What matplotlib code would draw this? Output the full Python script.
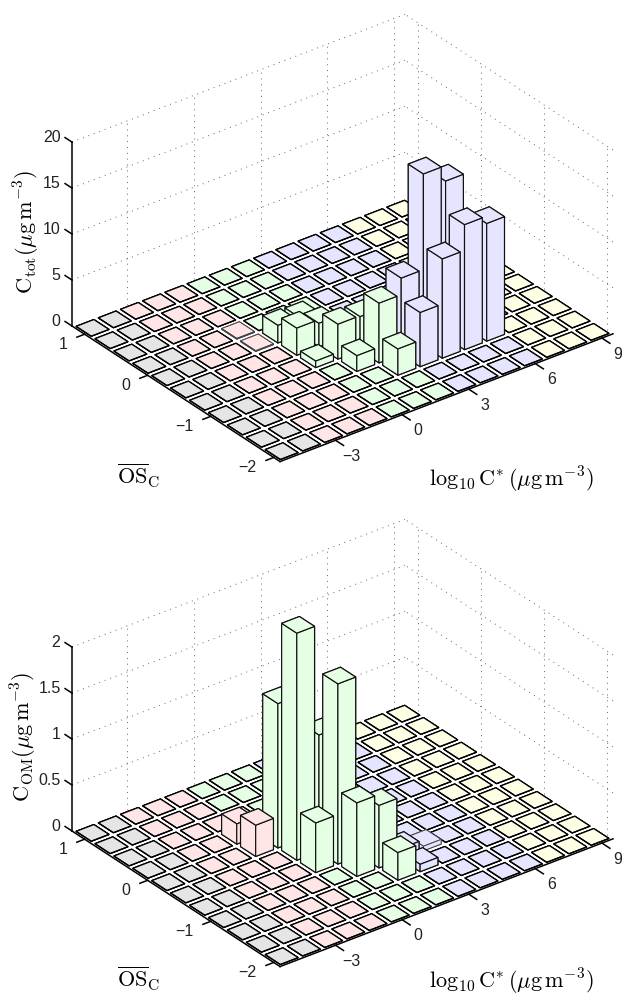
import numpy as np
import matplotlib
matplotlib.use("Agg")
import matplotlib.pyplot as plt
from mpl_toolkits.mplot3d import proj3d

plt.rcParams['font.family'] = ['Liberation Sans', 'DejaVu Sans']
plt.rcParams['mathtext.fontset'] = 'cm'

W, H = 622, 996

# grid cells
log_c = [-5, -4, -3, -2, -1, 0, 1, 2, 3, 4, 5, 6, 7, 8, 9]
os_c = [1.05, 0.75, 0.45, 0.15, -0.15, -0.45, -0.75, -1.05, -1.35, -1.65, -1.95]
col_gray = '#e5e5e5'
col_pink = '#ffe5e5'
col_green = '#e5ffe5'
col_blue = '#e5e5ff'
col_yellow = '#ffffe5'
cell_colors = [col_gray] * 2 + [col_pink] * 3 + [col_green] * 3 + [col_blue] * 4 + [col_yellow] * 3

# non zero bars, top panel
top_x = [3, 4, 5, 6, 2, 1, 2, 3, 4, 5, 1, 2, 0, 0, 1, 0, 1, -1, -1]
top_os = [-1.35, -1.35, -1.35, -1.35, -1.35, -1.05, -1.05, -1.05, -1.05, -1.05,
          -0.75, -0.75, -0.75, -0.45, -0.45, -0.15, -0.15, 0.15, -0.15]
top_h = [5.9, 10.8, 13.6, 12.8, 2.85, 1.7, 6.5, 8.3, 18.7, 17.0,
         3.8, 3.7, 0.7, 2.95, 2.55, 1.9, 1.8, 0.08, 0.08]

# non zero bars, bottom panel
bot_x = [0, 1, 0, 1, 0, 1, 2, 2, -1, -1, 3, 4, 3]
bot_os = [-0.45, -0.75, -0.15, -0.45, -0.75, -1.05, -1.05, -1.35, -0.15, 0.15, -1.05, -1.05, -1.35]
bot_h = [2.47, 1.96, 1.57, 1.27, 0.54, 0.8, 0.68, 0.3, 0.34, 0.22, 0.12, 0.05, 0.08]

x_ticks = [-3, 0, 3, 6, 9]
x_tick_labels = ['\u22123', '0', '3', '6', '9']
y_ticks = [1, 0, -1, -2]
y_tick_labels = ['1', '0', '\u22121', '\u22122']
top_z_ticks = [0, 5, 10, 15, 20]
top_z_labels = ['0', '5', '10', '15', '20']
bot_z_ticks = [0, 0.5, 1, 1.5, 2]
bot_z_labels = ['0', '0.5', '1', '1.5', '2']

xlim = (-5.5, 9.5)
ylim = (-2.1, 1.2)
bar_w = 0.8
tick_size = 11.5
label_size = 16


def to_pixels(ax, x, y, z):
    xs, ys, _ = proj3d.proj_transform(np.atleast_1d(x), np.atleast_1d(y), np.atleast_1d(z), ax.get_proj())
    return ax.transData.transform(np.column_stack([xs, ys]))


def place_box(ax, corner_px, right_px):
    # scale and move the square 3d axes so the floor corners land on these pixels
    size = 800.0
    cx, cy = W / 2, H / 2
    for i in range(3):
        ax.set_position([(cx - size / 2) / W, (cy - size / 2) / H, size / W, size / H])
        ax.apply_aspect()
        pts = to_pixels(ax, [xlim[0], xlim[1]], [ylim[1], ylim[0]], [0, 0])
        if i == 0:
            size = size * (right_px - corner_px[0]) / (pts[1, 0] - pts[0, 0])
        else:
            cx += corner_px[0] - pts[0, 0]
            cy += (H - corner_px[1]) - pts[0, 1]


def tick_text(ax, x, y, z, dx, dy, text, ha):
    # label sits a fixed number of pixels from its tick
    p = to_pixels(ax, x, y, z)[0]
    fig.text((p[0] + dx) / W, (p[1] - dy) / H, text, ha=ha, va='center', fontsize=tick_size, color='#222222')


def draw_panel(bar_xs, bar_ys, bar_hs, z_ticks, z_labels, floor_y):
    ax = fig.add_subplot(projection='3d', proj_type='ortho', computed_zorder=False)
    ax.view_init(elev=30, azim=-127.5)
    ax.set_axis_off()
    ax.patch.set_visible(False)
    zmax = z_ticks[-1]
    ax.set_xlim(*xlim, view_margin=0)
    ax.set_ylim(*ylim, view_margin=0)
    ax.set_zlim(0, zmax, view_margin=0)
    ax.set_box_aspect((420, 342, 212.5))
    place_box(ax, (72, floor_y), 613)

    # dotted walls
    grid = dict(color='#666666', lw=0.7, ls=(0, (1, 5)), zorder=1)
    for z in z_ticks[1:]:
        ax.plot(xlim, [ylim[1]] * 2, [z] * 2, **grid)
        ax.plot([xlim[1]] * 2, ylim, [z] * 2, **grid)
    for x in x_ticks:
        ax.plot([x, x], [ylim[1]] * 2, [0, zmax], **grid)
    for y in y_ticks:
        ax.plot([xlim[1]] * 2, [y, y], [0, zmax], **grid)

    # axis lines and ticks
    line = dict(color='black', lw=1.1, zorder=2)
    ax.plot([xlim[0]] * 2, ylim, [0, 0], **line)
    ax.plot(xlim, [ylim[0]] * 2, [0, 0], **line)
    ax.plot([xlim[0]] * 2, [ylim[1]] * 2, [0, zmax], **line)
    for x, lab in zip(x_ticks, x_tick_labels):
        ax.plot([x, x], [ylim[0], ylim[0] - 0.127], [0, 0], **line)
        tick_text(ax, x, ylim[0], 0, 16, 16, lab, 'center')
    for y, lab in zip(y_ticks, y_tick_labels):
        ax.plot([xlim[0], xlim[0] - 0.35], [y, y], [0, 0], **line)
        tick_text(ax, xlim[0], y, 0, -17, 10, lab, 'right')
    for z, lab in zip(z_ticks, z_labels):
        ax.plot([xlim[0]] * 2, [ylim[1], ylim[1] + 0.11], [z, z], **line)
        tick_text(ax, xlim[0], ylim[1], z, -11.5, -5, lab, 'right')

    # bars, far cells first so near ones paint over them
    heights = {(x, y): h for x, y, h in zip(bar_xs, bar_ys, bar_hs)}
    cells = [(i, j) for i in range(len(log_c)) for j in range(len(os_c))]
    cells.sort(key=lambda c: c[1] - c[0])
    for rank, (i, j) in enumerate(cells):
        h = heights.get((log_c[i], os_c[j]), 0)
        if h == 0:
            edge, lw = 'black', 0.9
        elif h < 0.03 * zmax:
            edge, lw = '#444444', 0.7
        else:
            edge, lw = '#111111', 0.85
        dx = bar_w
        dy = bar_w * 0.3
        box = ax.bar3d(log_c[i] - dx / 2, os_c[j] - dy / 2, 0, dx, dy, h, color=cell_colors[i],
                       edgecolor=edge, linewidth=lw, shade=False)
        box.set_zorder(10 + rank)
    return ax


fig = plt.figure(figsize=(W / 100, H / 100), dpi=100)

draw_panel(top_x, top_os, top_h, top_z_ticks, top_z_labels, 326)
draw_panel(bot_x, bot_os, bot_h, bot_z_ticks, bot_z_labels, 831)

unit = r'(\mu\mathrm{g\,m}^{-3})'
fig.text(27 / W, 1 - 232 / H, r'$\mathrm{C_{tot}}' + unit + '$', rotation=90, ha='center', va='center', fontsize=label_size)
fig.text(24 / W, 1 - 737 / H, r'$\mathrm{C_{OM}}' + unit + '$', rotation=90, ha='center', va='center', fontsize=label_size)
for y_os, y_log in [(484, 486), (987, 988)]:
    fig.text(138.5 / W, 1 - y_os / H, r'$\overline{\mathrm{OS}}_{\mathrm{C}}$', ha='center', va='baseline', fontsize=label_size)
    fig.text(511.5 / W, 1 - y_log / H, r'$\log_{10}\mathrm{C}^{*}\,' + unit + '$', ha='center', va='baseline', fontsize=label_size)

fig.savefig('out.png', dpi=100)
